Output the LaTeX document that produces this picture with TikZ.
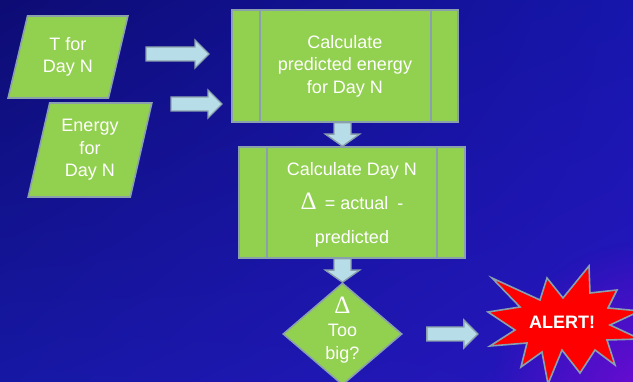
\documentclass[tikz,border=0pt]{standalone}
\usepackage{fontspec}
\setmainfont{Liberation Sans}
\newfontfamily\symfont{Liberation Serif}
\usetikzlibrary{shapes.geometric,calc,fadings,shadings}

\definecolor{bgTL}{RGB}{13,12,116}
\definecolor{bgTR}{RGB}{22,22,172}
\definecolor{bgBL}{RGB}{22,24,164}
\definecolor{bgBR}{RGB}{40,22,192}
\definecolor{bgPurple}{RGB}{112,10,210}
\definecolor{leafgreen}{RGB}{146,208,80}
\definecolor{edgegray}{RGB}{138,160,172}
\definecolor{arrowblue}{RGB}{183,222,232}
\definecolor{alertred}{RGB}{255,0,0}

\tikzfading[name=cornerglow, inner color=transparent!0, outer color=transparent!100]

% horizontal block arrow from #1 (tail) to #2 (tip)
\newcommand{\harrow}[2]{%
  \draw[arrowbody] ($(#1)+(0,-7)$) -- ($(#2)+(-14,-7)$) -- ($(#2)+(-14,-14)$)
    -- (#2) -- ($(#2)+(-14,14)$) -- ($(#2)+(-14,7)$) -- ($(#1)+(0,7)$) -- cycle;}
% downward block arrow from #1 (tail) to #2 (tip)
\newcommand{\varrow}[2]{%
  \draw[arrowbody] ($(#1)+(-8.5,0)$) -- ($(#2)+(-8.5,-12)$) -- ($(#2)+(-17,-12)$)
    -- (#2) -- ($(#2)+(17,-12)$) -- ($(#2)+(8.5,-12)$) -- ($(#1)+(8.5,0)$) -- cycle;}

\tikzset{
  flowshape/.style={fill=leafgreen, draw=edgegray, line width=1.6pt},
  labeltext/.style={text=white, align=center, font=\fontsize{18}{22.5}\selectfont},
  iobox/.style={flowshape, labeltext, trapezium, trapezium stretches=true, inner sep=0pt},
  procbox/.style={flowshape, labeltext, rectangle, inner sep=0pt,
    minimum width=226pt},
  sidebar/.style={draw=edgegray, line width=1.6pt},
  arrowbody/.style={fill=arrowblue, draw=edgegray, line width=1.4pt, line join=miter},
}

\begin{document}
\begin{tikzpicture}[x=1pt,y=-1pt]
\useasboundingbox (0,0) rectangle (633,382);
\clip (0,0) rectangle (633,382);

% background
\shade[upper left=bgTL, upper right=bgTR, lower left=bgBL, lower right=bgBR]
  (0,0) rectangle (633,382);
\fill[bgPurple, path fading=cornerglow] (650,400) circle (160);

% inputs
\node[iobox, minimum width=120pt, minimum height=82pt,
  trapezium left angle=73, trapezium right angle=107] (tin) at (68,57) {T for\\Day N};
\node[iobox, minimum width=124pt, minimum height=94pt,
  trapezium left angle=76, trapezium right angle=104] (ein) at (90,150) {Energy\\for\\Day N};

% process boxes
\node[procbox, minimum height=112pt] (pred) at (345,66)
  {Calculate\\predicted energy\\for Day N};
\draw[sidebar] ($(pred.north west)+(29,0)$) -- ($(pred.south west)+(29,0)$);
\draw[sidebar] ($(pred.north east)+(-28,0)$) -- ($(pred.south east)+(-28,0)$);

\node[procbox, minimum height=111pt] (diff) at (352,202.5) {};
\node[labeltext, font=\fontsize{18}{34}\selectfont] (difftxt) at ($(diff.center)+(0,2)$)
  {Calculate Day N\\{\symfont\fontsize{25}{25}\selectfont Δ}\hspace{8pt}=\hspace{5pt}actual\hspace{9pt}-\\predicted};
\draw[sidebar] ($(diff.north west)+(29,0)$) -- ($(diff.south west)+(29,0)$);
\draw[sidebar] ($(diff.north east)+(-29,0)$) -- ($(diff.south east)+(-29,0)$);

% decision
\node[flowshape, diamond, minimum width=119pt, minimum height=102pt, inner sep=0pt]
  (big) at (342.5,334) {};
\node[labeltext, font=\fontsize{18}{23}\selectfont] (bigtxt) at ($(big.center)+(0,-4)$)
  {{\symfont\fontsize{25}{25}\selectfont Δ}\\Too\\big?};

% alert burst
\draw[fill=alertred, draw=edgegray, line width=1.6pt, line join=miter]
  (492,278) -- (540,300) -- (547,278) -- (563,298) -- (589,266) -- (590,293)
  -- (617,290) -- (608,308) -- (640,311) -- (610,325) -- (640,339) -- (607,340)
  -- (615,365) -- (595,350) -- (580,373) -- (562,350) -- (548,384) -- (542,352)
  -- (521,367) -- (527,343) -- (490,346) -- (515,330) -- (488,312) -- (520,307) -- cycle;
\node[text=white, font=\bfseries\fontsize{18}{18}\selectfont] (alert) at (562,322) {ALERT!};

% connectors
\coordinate (a1s) at (146,54);
\coordinate (a1e) at (209,54);
\coordinate (a2s) at (171,104);
\coordinate (a2e) at (222,104);
\coordinate (a3s) at ($(big.east)+(24,0)$);
\coordinate (a3e) at ($(big.east)+(75,0)$);
\harrow{a1s}{a1e}
\harrow{a2s}{a2e}
\harrow{a3s}{a3e}
\varrow{pred.south -| big.north}{diff.north -| big.north}
\varrow{diff.south -| big.north}{big.north}
\end{tikzpicture}
\end{document}
